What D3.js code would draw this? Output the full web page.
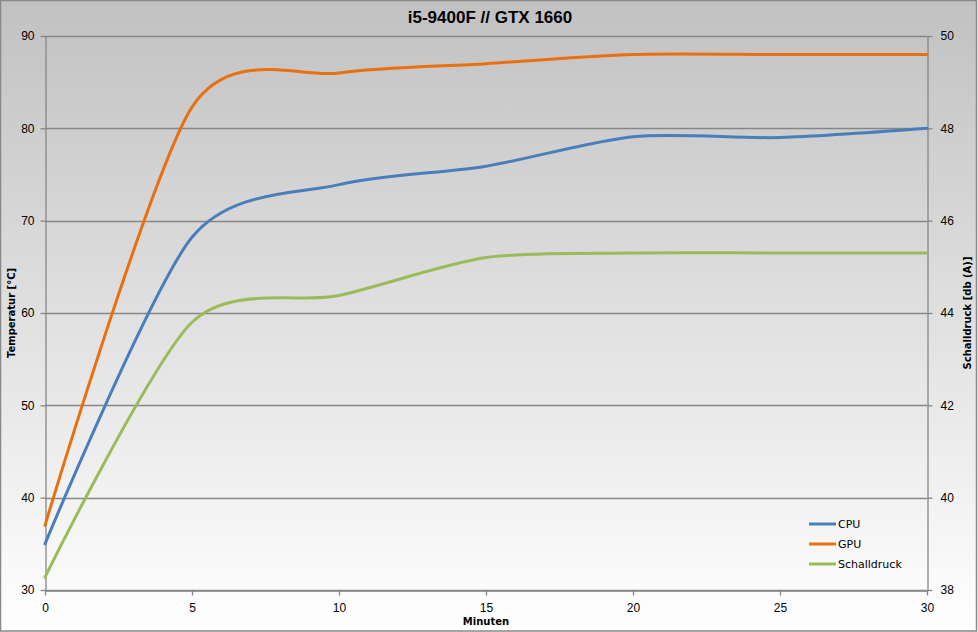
<!DOCTYPE html>
<html>
<head>
<meta charset="utf-8">
<script src="https://cdn.jsdelivr.net/npm/d3@7"></script>
<style>
  html, body { margin: 0; padding: 0; background: #fff; }
  svg { display: block; font-family: Tahoma, 'DejaVu Sans', sans-serif; }
</style>
</head>
<body>
<div id="chart"></div>
<script>
const minutes = [0, 5, 10, 15, 20, 25, 30]
const cpu = [35, 68.2, 73.9, 75.9, 79.1, 79.0, 80.0]
const gpu = [37, 82.3, 86.0, 87.0, 88.0, 88.0, 88.0]
const schalldruck = [38.28, 43.8, 44.38, 45.2, 45.3, 45.3, 45.3]

const xTicks = [0, 5, 10, 15, 20, 25, 30]
const leftTicks = [30, 40, 50, 60, 70, 80, 90]
const rightTicks = [38, 40, 42, 44, 46, 48, 50]

const titleText = 'i5-9400F // GTX 1660'
const leftTitle = 'Temperatur [°C]'
const rightTitle = 'Schalldruck [db (A)]'
const xTitle = 'Minuten'

const width = 978
const height = 632
const margin = {top: 36, right: 51, bottom: 42, left: 45}
const gridColor = '#868686'

const svg = d3.select('#chart')
    .append('svg')
    .attr('width', width)
    .attr('height', height)

const defs = svg.append('defs')
const grad = defs.append('linearGradient')
    .attr('id', 'bg')
    .attr('x1', 0).attr('y1', 0)
    .attr('x2', 0).attr('y2', 1)
grad.append('stop').attr('offset', '0%').attr('stop-color', '#c1c1c1')
grad.append('stop').attr('offset', '100%').attr('stop-color', '#ffffff')

svg.append('rect')
    .attr('x', 0.5).attr('y', 0.5)
    .attr('width', width - 2).attr('height', height - 1.5)
    .attr('fill', 'url(#bg)')
    .attr('stroke', '#888')
    .attr('stroke-width', 1.5)

const x = d3.scaleLinear().domain([0, 30]).range([margin.left, width - margin.right])
const yL = d3.scaleLinear().domain([30, 90]).range([height - margin.bottom, margin.top])
const yR = d3.scaleLinear().domain([38, 50]).range([height - margin.bottom, margin.top])

// horizontal gridlines
svg.append('g')
    .selectAll('line')
    .data(leftTicks)
    .join('line')
    .attr('x1', x(0))
    .attr('x2', x(30))
    .attr('y1', d => Math.round(yL(d)) + 0.5)
    .attr('y2', d => Math.round(yL(d)) + 0.5)
    .attr('stroke', gridColor)
    .attr('stroke-width', 1.3)

function styleAxis(g) {
    g.select('.domain').attr('stroke', gridColor).attr('stroke-width', 1.3)
    g.selectAll('.tick line').attr('stroke', gridColor).attr('stroke-width', 1.3)
    g.selectAll('.tick text').attr('fill', '#000').style('font-size', '12px')
}

svg.append('g')
    .attr('transform', `translate(${Math.round(x(0)) + 0.5},0)`)
    .call(d3.axisLeft(yL).tickValues(leftTicks).tickSize(5).tickSizeOuter(0).tickPadding(6))
    .call(styleAxis)

svg.append('g')
    .attr('transform', `translate(${Math.round(x(30)) + 0.5},0)`)
    .call(d3.axisRight(yR).tickValues(rightTicks).tickSize(5).tickSizeOuter(0).tickPadding(8))
    .call(styleAxis)

svg.append('g')
    .attr('transform', `translate(0,${Math.round(yL(30)) + 0.5})`)
    .call(d3.axisBottom(x).tickValues(xTicks).tickSize(5).tickSizeOuter(0).tickPadding(8))
    .call(styleAxis)

// series, smoothed like the spreadsheet lines
const series = [
    {name: 'CPU', values: cpu, y: yL, color: '#4a7ebb'},
    {name: 'GPU', values: gpu, y: yL, color: '#e8700f'},
    {name: 'Schalldruck', values: schalldruck, y: yR, color: '#9bbb59'}
]

for (const s of series) {
    const line = d3.line()
        .x((d, i) => x(minutes[i]))
        .y(d => s.y(d))
        .curve(d3.curveCardinal.tension(0.2))
    svg.append('path')
        .datum(s.values)
        .attr('d', line)
        .attr('fill', 'none')
        .attr('stroke', s.color)
        .attr('stroke-width', 3)
        .attr('stroke-linecap', 'round')
}

// legend
const legend = svg.append('g').attr('transform', 'translate(809,524)')
series.forEach((s, i) => {
    legend.append('line')
        .attr('x1', 0).attr('x2', 27)
        .attr('y1', i * 20).attr('y2', i * 20)
        .attr('stroke', s.color)
        .attr('stroke-width', 3)
    legend.append('text')
        .attr('x', 29)
        .attr('y', i * 20 + 4)
        .style('font-size', '11px')
        .text(s.name)
})

// titles
svg.append('text')
    .attr('x', 490)
    .attr('y', 23)
    .attr('text-anchor', 'middle')
    .style('font-family', "'Liberation Sans', Arial, sans-serif")
    .style('font-size', '17px')
    .style('font-weight', 'bold')
    .text(titleText)

svg.append('text')
    .attr('transform', `translate(15,${(yL(30) + yL(90)) / 2}) rotate(-90)`)
    .attr('text-anchor', 'middle')
    .style('font-size', '10px')
    .style('font-weight', 'bold')
    .text(leftTitle)

svg.append('text')
    .attr('transform', `translate(971,${(yL(30) + yL(90)) / 2}) rotate(-90)`)
    .attr('text-anchor', 'middle')
    .style('font-size', '10px')
    .style('font-weight', 'bold')
    .text(rightTitle)

svg.append('text')
    .attr('x', x(15))
    .attr('y', 625)
    .attr('text-anchor', 'middle')
    .style('font-size', '10px')
    .style('font-weight', 'bold')
    .text(xTitle)
</script>
</body>
</html>
